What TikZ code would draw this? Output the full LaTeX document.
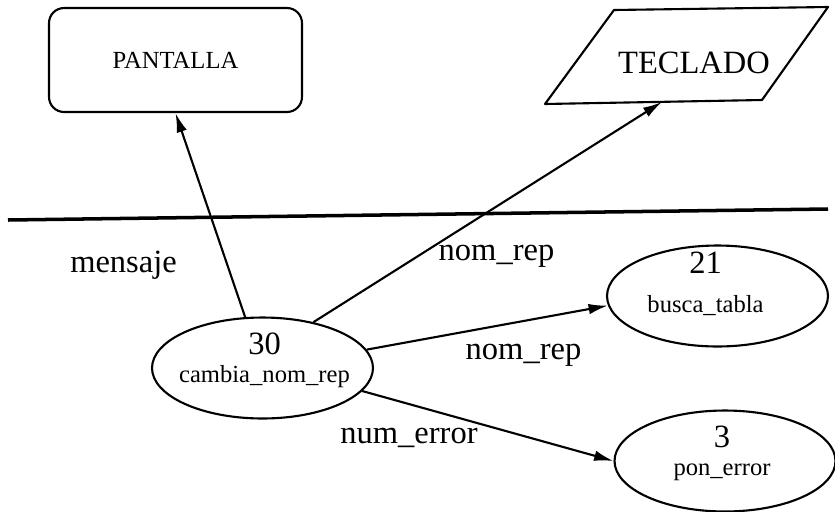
\documentclass[tikz,border=0pt]{standalone}
\usepackage{fontspec}
\setmainfont{Liberation Serif}
\usetikzlibrary{
	positioning,			% Relative positioning
	shapes.geometric,		% Ellipses
	arrows.meta,			% Advanced arrows
	calc					% Calculate point coordinates
}

\begin{document}
\begin{tikzpicture}[x=0.02cm, y=-0.02cm]
		\tikzstyle{bigtxt} = [font=\fontsize{18.5}{22}\selectfont, inner sep=0pt]
		\tikzstyle{smalltxt} = [font=\fontsize{14}{17}\selectfont, inner sep=0pt]
		\tikzstyle{process} = [draw, ellipse, line width=1.2pt, minimum width=4.42cm, minimum height=2.02cm]
		\tikzstyle{flow} = [line width=1.2pt, -{Latex[length=11pt, width=6pt]}]
		\useasboundingbox (0,0) rectangle (835,511);
		
		% Externals
		\node[draw, rounded corners=0.3cm, line width=1.2pt, minimum width=5.06cm, minimum height=2.08cm, font=\fontsize{14}{17}\selectfont] at (175.5,60) (pantalla) {PANTALLA};
		%% Keyboard (parallelogram)
		\coordinate (tecBL) at (545,104);
		\coordinate (tecBR) at (762,100);
		\coordinate (tecTR) at (828,7);
		\coordinate (tecTL) at (614,10);
		\draw[line width=1.2pt, line join=round] (tecBL) -- (tecBR) -- (tecTR) -- (tecTL) -- cycle;
		\node[bigtxt, anchor=base] at (694,73) (teclado) {TECLADO};
		
		% Boundary
		\coordinate (sepLeft) at (8,220);
		\coordinate (sepRight) at (828,209);
		\draw[line width=2pt] (sepLeft) -- (sepRight);
		
		% Processes: name / centre / number / text / text offset x / number raise / text drop
		\foreach \name/\x/\y/\num/\txt/\dx/\up/\down in {p30/262.5/368/30/cambia\_nom\_rep/2/14/14, p21/717.5/296/21/busca\_tabla/-12/23/16, p3/725/461/3/pon\_error/-3/14/14}{
			\node[process] at (\x,\y) (\name) {};
			\node[bigtxt, anchor=base] at ($(\name.center)+(\dx,-\up)$) (\name Num) {\num};
			\node[smalltxt, anchor=base] at ($(\name.center)+(\dx,\down)$) (\name Txt) {\txt};
		}
		
		% Flows
		\draw[flow] (p30) -- (pantalla.south);
		\draw[flow] (p30.42) -- ($(tecBL)!0.54!(tecBR)$);
		\draw[flow] (p30.10) -- (p21.185);
		\draw[flow] (p30.347) -- (p3.west);
		
		% Labels
		\node[bigtxt, anchor=base] at (123.5,272) (mensajeLbl) {mensaje};
		\node[bigtxt, anchor=base] at (496.5,260) (nomRepUpLbl) {nom\_rep};
		\node[bigtxt, anchor=base] at (523.5,359) (nomRepLowLbl) {nom\_rep};
		\node[bigtxt, anchor=base] at (409,443) (numErrorLbl) {num\_error};
	\end{tikzpicture}
\end{document}
